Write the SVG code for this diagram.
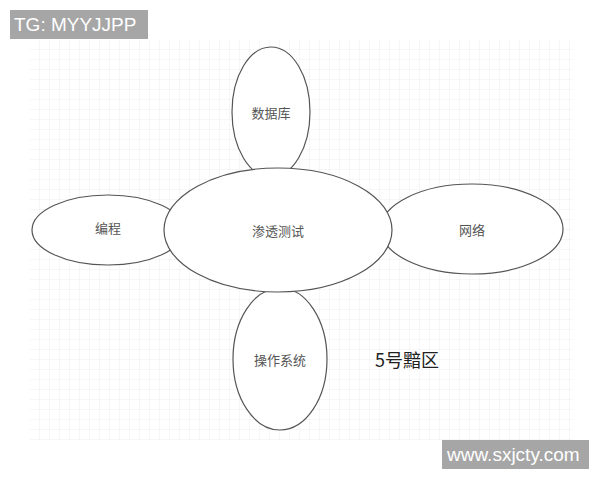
<svg xmlns="http://www.w3.org/2000/svg" width="600" height="480" viewBox="0 0 600 480">
<defs>
<pattern id="grid" width="10" height="10" patternUnits="userSpaceOnUse">
<path d="M10 0V10M0 10H10" fill="none" stroke="#eeeeee" stroke-width="1"/>
</pattern>
<style>
.node{fill:#ffffff;stroke:#555555;stroke-width:1.2}
.lbl{font-family:"Noto Sans CJK SC","Noto Sans",sans-serif;font-size:13px;fill:#555555;text-anchor:middle;dominant-baseline:central}
.wm{fill:#a6a6a6}
.wmt{font-family:"Liberation Sans",Arial,sans-serif;font-size:19px;fill:#ffffff}
</style>
</defs>
<rect width="600" height="480" fill="#ffffff"/>
<rect x="30" y="40" width="543" height="400" fill="url(#grid)"/>
<g id="connectors"></g>
<g id="n-db"><ellipse class="node" cx="271" cy="112" rx="39" ry="65"/><text class="lbl" x="271" y="112">数据库</text></g>
<g id="n-prog"><ellipse class="node" cx="108" cy="230" rx="76" ry="35"/><text class="lbl" x="108" y="227">编程</text></g>
<g id="n-net"><ellipse class="node" cx="472" cy="229" rx="91" ry="45"/><text class="lbl" x="472" y="229">网络</text></g>
<g id="n-os"><ellipse class="node" cx="280" cy="359" rx="47" ry="71"/><text class="lbl" x="280" y="359">操作系统</text></g>
<g id="n-center"><ellipse class="node" cx="278" cy="230" rx="114" ry="62"/><text class="lbl" x="278" y="230">渗透测试</text></g>
<text x="407" y="359" font-family="Noto Sans CJK SC,sans-serif" font-size="18" fill="#222222" text-anchor="middle" dominant-baseline="central">5号黯区</text>
<rect class="wm" x="10" y="10" width="138" height="29"/>
<text class="wmt" x="14" y="31">TG: MYYJJPP</text>
<rect class="wm" x="442" y="440" width="147" height="29"/>
<text class="wmt" x="447" y="461">www.sxjcty.com</text>
</svg>
